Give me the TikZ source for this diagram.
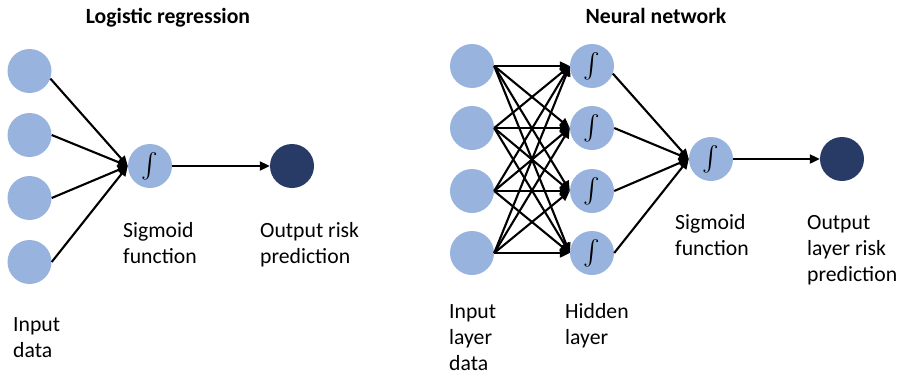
\documentclass[tikz,border=0pt]{standalone}
\usepackage{amsmath}
\usepackage{fontspec}
\setmainfont{Carlito}
\usetikzlibrary{arrows.meta}
\definecolor{nodeblue}{HTML}{97B3DE}
\definecolor{outblue}{HTML}{283A66}
\tikzset{
  neuron/.style={circle, fill=nodeblue, minimum size=44pt, inner sep=0pt},
  outneuron/.style={circle, fill=outblue, minimum size=44pt, inner sep=0pt},
  sigmoid/.style={neuron, font=\fontsize{24}{24}\selectfont},
  link/.style={line width=2.1pt, -{Triangle[length=10pt,width=9pt]}},
  % anchored at the baseline of the last line
  caption/.style={anchor=base west, align=left, inner sep=0pt,
    font=\fontsize{21.7}{26}\selectfont},
  heading/.style={anchor=base, inner sep=0pt,
    font=\fontsize{21.7}{26}\selectfont\bfseries}
}
\begin{document}
\begin{tikzpicture}[x=1pt, y=-1pt]
  \useasboundingbox (0,0) rectangle (899,375);

  % ---- Logistic regression ----
  \node[heading] (t1) at (168,23) {Logistic regression};
  \foreach \i/\y in {1/71, 2/135, 3/198, 4/262}
    \node[neuron] (a\i) at (29.5,\y) {};
  \node[sigmoid] (s1) at (150,166) {$\int$};
  \node[outneuron] (o1) at (292,166) {};

  \draw[link] (a1.-20) -- (s1.west);
  \foreach \i in {2,3,4}
    \draw[link] (a\i.east) -- (s1.west);
  \draw[link] (s1.east) -- (o1.west);

  \node[caption] (c1) at (13,357) {Input\\data};
  \node[caption] (c2) at (123,263) {Sigmoid\\function};
  \node[caption] (c3) at (260,263) {Output risk\\prediction};

  % ---- Neural network ----
  \node[heading] (t2) at (656,23) {Neural network};
  \foreach \i/\y in {1/66, 2/128, 3/191, 4/253} {
    \node[neuron] (x\i) at (472,\y) {};
    \node[sigmoid] (h\i) at (592,\y) {$\int$};
  }
  \node[sigmoid] (s2) at (711,159) {$\int$};
  \node[outneuron] (o2) at (842,159) {};

  \foreach \i in {1,...,4}
    \foreach \j in {1,...,4}
      \draw[link] (x\i.east) -- (h\j.west);
  \draw[link] (h1.-20) -- (s2.west);
  \foreach \j in {2,3,4}
    \draw[link] (h\j.east) -- (s2.west);
  \draw[link] (s2.east) -- (o2.west);

  \node[caption] (c4) at (449,370) {Input\\layer\\data};
  \node[caption] (c5) at (565,344) {Hidden\\layer};
  \node[caption] (c6) at (675,255) {Sigmoid\\function};
  \node[caption] (c7) at (807,281) {Output\\layer risk\\prediction};
\end{tikzpicture}
\end{document}
